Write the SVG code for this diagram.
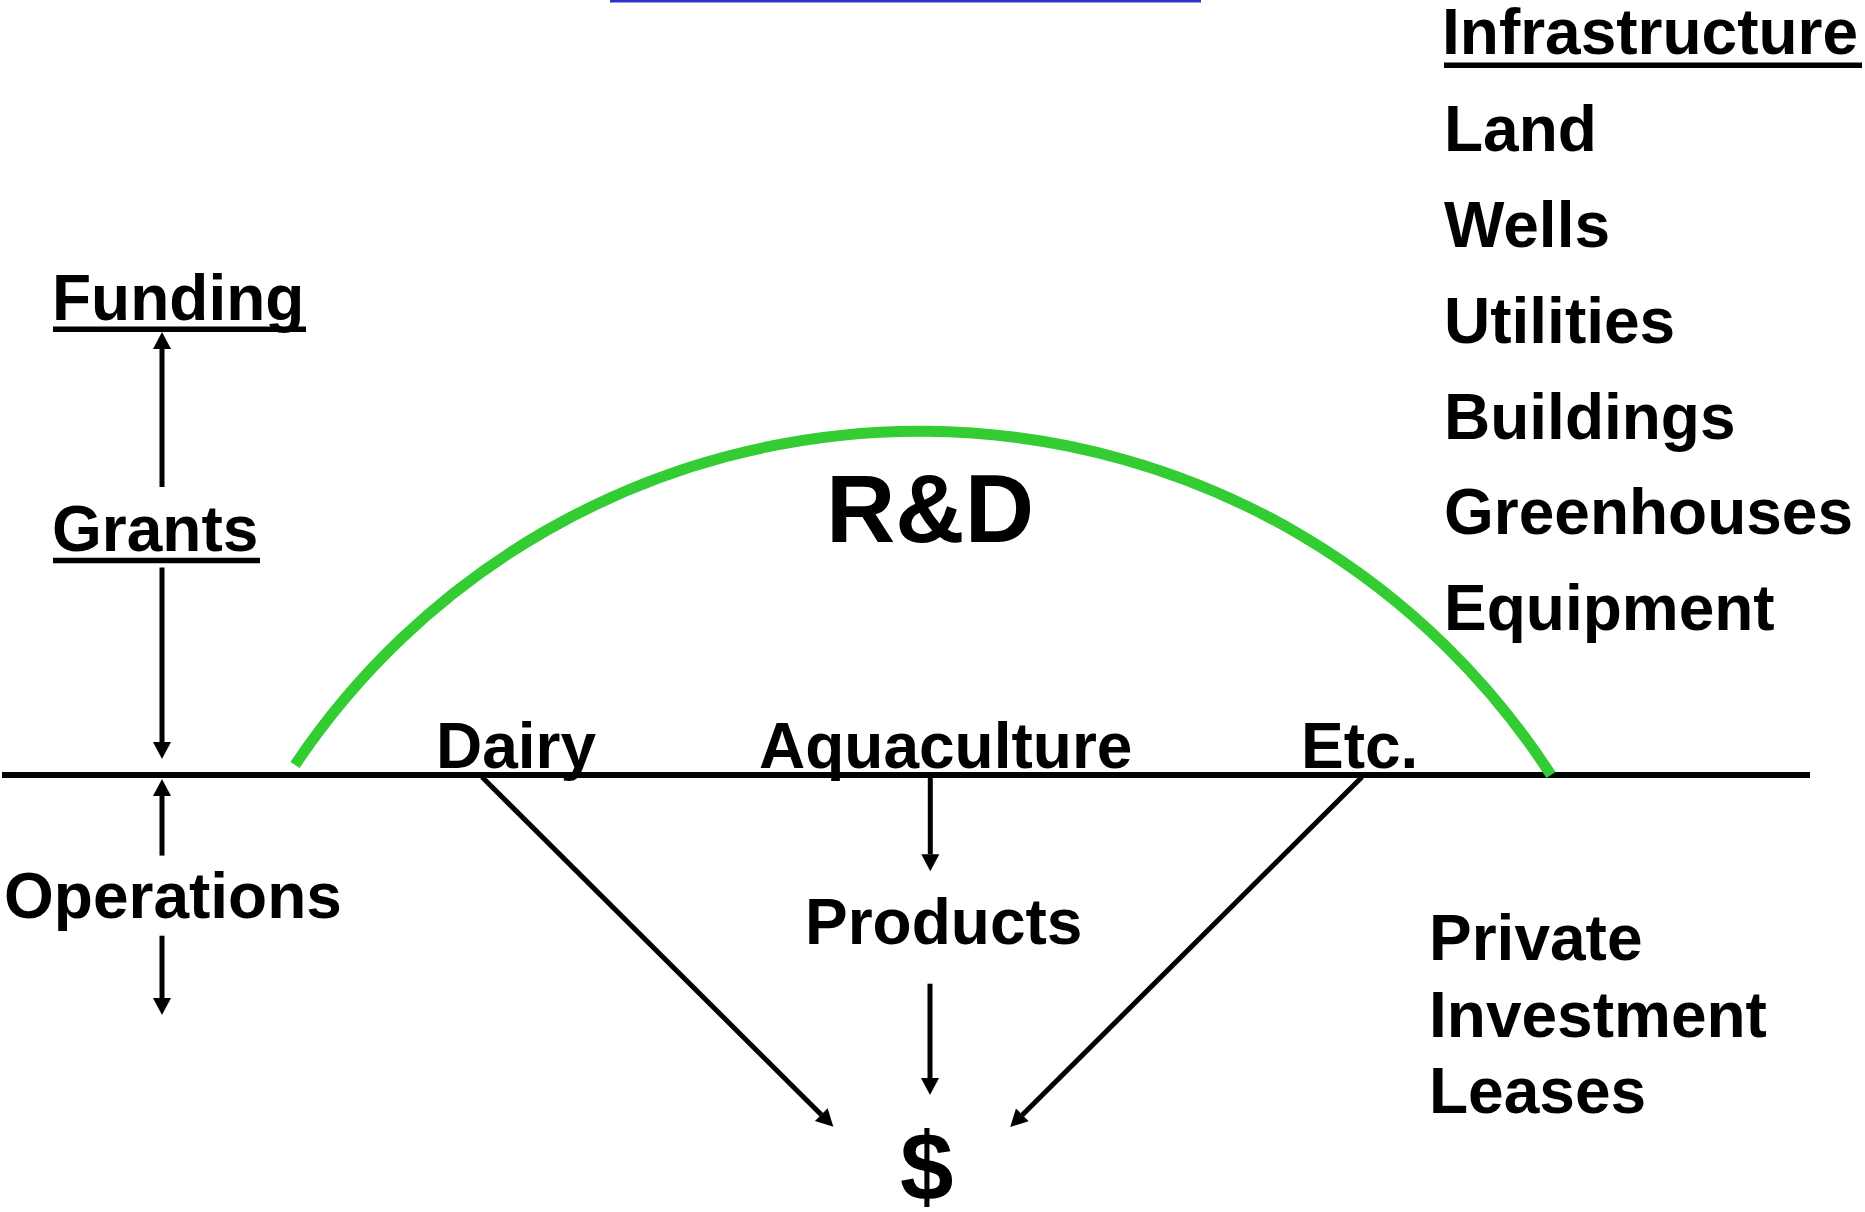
<svg xmlns="http://www.w3.org/2000/svg" width="1865" height="1212" viewBox="0 0 1865 1212">
  <defs>
    <style>
      text { font-family: "Liberation Sans", Arial, Helvetica, sans-serif; font-weight: bold; fill: #000; }
      .t { font-size: 64px; }
      .big { font-size: 96px; }
      .conn { stroke: #000; stroke-width: 5; fill: none; marker-end: url(#ah); }
      .ul { stroke: #000; stroke-width: 5.5; }
    </style>
    <marker id="ah" markerUnits="userSpaceOnUse" markerWidth="17" markerHeight="18" refX="0" refY="9" orient="auto" overflow="visible">
      <path d="M0,0 L17,9 L0,18 z" fill="#000"/>
    </marker>
  </defs>
  <rect width="1865" height="1212" fill="#fff"/>

  <!-- top blue rule -->
  <rect x="610" y="0" width="591" height="2.5" fill="#3333cc"/>

  <!-- baseline -->
  <line x1="2" y1="775" x2="1810" y2="775" stroke="#000" stroke-width="6"/>

  <!-- R&D arc -->
  <path d="M 295 765 A 751.5 751.5 0 0 1 1551 775" fill="none" stroke="#33cc33" stroke-width="11"/>

  <g id="connectors">
    <line class="conn" x1="162" y1="487" x2="162" y2="349"/>
    <line class="conn" x1="162" y1="567.5" x2="162" y2="742"/>
    <line class="conn" x1="162" y1="855.6" x2="162" y2="796"/>
    <line class="conn" x1="162" y1="935.7" x2="162" y2="998"/>
    <line class="conn" x1="930.3" y1="778" x2="930.3" y2="854.3"/>
    <line class="conn" x1="930" y1="983.7" x2="930" y2="1078"/>
    <line class="conn" x1="482" y1="777" x2="821.3" y2="1114.7"/>
    <line class="conn" x1="1362" y1="777" x2="1022.3" y2="1114.9"/>
  </g>

  <g id="funding">
    <text class="t" x="52" y="320">Funding</text>
    <line class="ul" x1="53" y1="329.3" x2="306" y2="329.3"/>
  </g>
  <g id="grants">
    <text class="t" x="52" y="551">Grants</text>
    <line class="ul" x1="53" y1="560.6" x2="260" y2="560.6"/>
  </g>
  <g id="operations">
    <text class="t" x="4" y="918">Operations</text>
  </g>
  <g id="rd">
    <text class="big" x="826" y="542">R&amp;D</text>
  </g>
  <g id="dairy">
    <text class="t" x="436" y="768">Dairy</text>
  </g>
  <g id="aquaculture">
    <text class="t" x="759" y="768">Aquaculture</text>
  </g>
  <g id="etc">
    <text class="t" x="1301" y="768">Etc.</text>
  </g>
  <g id="products">
    <text class="t" x="805" y="943.5">Products</text>
  </g>
  <g id="dollar">
    <text class="big" x="900" y="1200">$</text>
  </g>
  <g id="infrastructure">
    <text class="t" x="1442" y="54">Infrastructure</text>
    <line class="ul" x1="1444" y1="65.2" x2="1862" y2="65.2"/>
    <text class="t" x="1444" y="151">Land</text>
    <text class="t" x="1444" y="247">Wells</text>
    <text class="t" x="1444" y="343">Utilities</text>
    <text class="t" x="1444" y="438.5">Buildings</text>
    <text class="t" x="1444" y="534">Greenhouses</text>
    <text class="t" x="1444" y="630">Equipment</text>
  </g>
  <g id="private">
    <text class="t" x="1429" y="960">Private</text>
    <text class="t" x="1429" y="1036.5">Investment</text>
    <text class="t" x="1429" y="1113">Leases</text>
  </g>
</svg>
